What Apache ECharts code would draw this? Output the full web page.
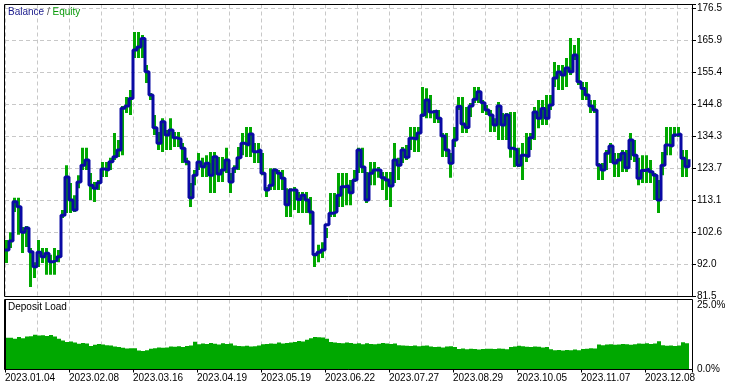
<!DOCTYPE html>
<html><head><meta charset="utf-8">
<script src="https://cdn.jsdelivr.net/npm/echarts/dist/echarts.min.js"></script>
<style>html,body{margin:0;padding:0;background:#fff}#c{width:737px;height:387px}</style>
</head><body><div id="c"></div>
<script>
const dateLabels = ['2023.01.04','2023.02.08','2023.03.16','2023.04.19','2023.05.19','2023.06.22','2023.07.27','2023.08.29','2023.10.05','2023.11.07','2023.12.08'];
const balanceTicks = ['81.5','92.0','102.6','113.1','123.7','134.3','144.8','155.4','165.9','176.5'];
const loadTicks = ['0.0%','25.0%'];

const balance = [96.9, 99.9, 112.8, 111.2, 102.8, 104.2, 96.3, 91.4, 96.2, 94.7,
 95.8, 93.0, 93.6, 94.7, 108.4, 121.0, 113.4, 110.1, 119.3, 124.9,
 126.6, 118.3, 117.3, 119.1, 123.6, 123.3, 126.0, 127.7, 129.9, 143.7,
 144.4, 146.9, 162.9, 163.9, 166.7, 155.7, 148.0, 137.2, 132.1, 139.2,
 134.8, 136.5, 133.9, 133.5, 130.5, 126.0, 114.1, 121.6, 125.9, 124.4,
 125.5, 121.6, 127.7, 122.0, 123.3, 126.6, 119.3, 123.9, 127.3, 132.1,
 131.5, 135.2, 129.3, 129.9, 122.2, 116.7, 118.3, 123.3, 122.2, 120.6,
 111.8, 116.7, 116.7, 113.6, 115.0, 113.4, 109.4, 95.3, 96.2, 96.9,
 105.2, 109.0, 109.5, 115.0, 117.8, 118.0, 115.8, 120.0, 129.9, 124.3,
 113.4, 122.2, 123.3, 123.3, 120.7, 120.0, 118.0, 126.6, 124.9, 129.9,
 127.5, 133.8, 133.5, 135.5, 141.4, 146.4, 142.4, 142.8, 140.4, 134.5,
 129.9, 125.5, 133.2, 144.2, 138.5, 137.3, 144.4, 146.6, 149.1, 145.5,
 143.1, 141.4, 138.1, 144.4, 138.1, 141.4, 130.5, 129.9, 124.9, 128.2,
 127.7, 133.9, 142.4, 140.4, 143.6, 140.4, 144.7, 153.6, 155.6, 154.6,
 156.9, 155.7, 161.2, 152.4, 150.2, 148.0, 144.4, 143.1, 124.9, 123.3,
 128.8, 131.2, 125.6, 126.6, 128.8, 124.0, 133.2, 128.2, 120.6, 123.1,
 123.6, 122.7, 121.6, 113.4, 124.9, 131.5, 131.2, 134.8, 135.2, 127.2,
 124.4, 126.8];

const equityHigh = [100.2, 102.8, 114.1, 114.1, 104.5, 104.8, 97.6, 92.9, 100.2, 97.6,
 97.6, 95.3, 97.6, 96.9, 110.1, 124.9, 119.0, 115.0, 121.6, 130.6,
 130.6, 122.3, 119.3, 120.0, 125.9, 125.9, 127.3, 135.5, 133.2, 144.4,
 147.4, 149.7, 168.8, 168.8, 167.8, 157.9, 148.7, 141.4, 135.8, 140.4,
 136.5, 140.4, 135.8, 135.8, 132.2, 127.3, 119.0, 123.3, 128.9, 127.3,
 128.2, 129.2, 129.2, 127.6, 127.6, 130.6, 122.3, 124.9, 130.9, 135.5,
 137.5, 137.5, 132.2, 132.2, 128.9, 117.7, 123.9, 123.9, 123.3, 123.3,
 117.3, 117.3, 117.7, 116.0, 116.0, 116.0, 114.4, 95.9, 98.6, 99.5,
 104.2, 115.7, 115.7, 122.3, 122.3, 122.3, 120.0, 123.3, 130.6, 130.6,
 122.6, 125.9, 125.9, 124.3, 122.6, 122.6, 122.6, 132.2, 127.3, 130.9,
 131.5, 137.5, 137.5, 137.5, 150.7, 150.3, 148.0, 143.1, 143.1, 135.5,
 135.5, 128.9, 137.5, 147.4, 147.4, 144.1, 145.4, 150.7, 150.7, 146.4,
 144.7, 143.1, 140.4, 145.7, 142.1, 142.1, 142.4, 142.4, 130.6, 132.2,
 135.5, 135.5, 144.1, 146.4, 146.4, 148.0, 148.0, 158.9, 157.9, 157.9,
 160.2, 166.8, 164.5, 166.8, 152.3, 152.3, 146.4, 146.4, 125.6, 125.6,
 129.9, 132.2, 128.9, 128.9, 129.9, 129.9, 135.5, 133.2, 127.3, 128.2,
 128.2, 126.6, 122.3, 120.0, 129.2, 137.5, 137.5, 137.5, 137.5, 129.9,
 129.9];

const equityLow = [92.6, 97.6, 109.4, 101.9, 95.9, 97.9, 84.7, 87.7, 91.3, 92.6,
 88.7, 88.7, 88.7, 92.9, 107.5, 109.1, 109.1, 109.4, 117.3, 123.3,
 123.3, 113.4, 112.7, 116.7, 121.0, 121.0, 123.3, 126.6, 127.6, 128.2,
 142.1, 141.4, 160.2, 160.2, 160.2, 152.0, 146.4, 134.8, 129.9, 129.2,
 129.9, 129.9, 130.9, 130.9, 125.6, 124.9, 111.1, 118.3, 123.3, 121.0,
 121.0, 115.7, 115.7, 119.3, 119.3, 122.3, 115.7, 122.3, 123.3, 128.2,
 127.6, 127.6, 125.6, 125.6, 121.6, 114.4, 116.7, 116.7, 116.7, 116.7,
 107.8, 107.8, 110.1, 109.1, 109.1, 109.1, 105.2, 91.3, 92.9, 94.3,
 100.9, 107.8, 107.8, 111.1, 111.1, 111.7, 111.7, 119.3, 122.3, 122.3,
 112.4, 118.3, 118.3, 120.7, 116.7, 113.4, 111.1, 119.0, 120.0, 125.6,
 126.6, 129.9, 129.2, 129.2, 140.8, 140.4, 140.4, 138.8, 138.8, 127.6,
 127.6, 120.7, 130.9, 143.1, 135.5, 135.5, 140.8, 145.4, 145.4, 142.1,
 141.4, 135.8, 135.8, 133.2, 133.2, 133.2, 127.3, 124.3, 124.3, 120.0,
 125.9, 129.9, 133.2, 137.1, 138.1, 138.1, 143.1, 150.7, 149.7, 149.7,
 150.7, 154.6, 159.6, 151.3, 146.4, 146.4, 142.1, 142.1, 120.0, 120.0,
 123.3, 125.6, 121.0, 121.0, 122.6, 122.6, 126.6, 125.9, 118.3, 119.0,
 119.0, 119.0, 113.4, 109.1, 121.6, 128.2, 128.2, 134.2, 134.2, 121.0,
 121.0];

const depositLoad = [11.3, 11.3,
 11.0, 11.6, 11.2, 11.8, 11.9,
 12.4, 12.1, 12.2, 12.0, 12.3, 11.8,
 11.0, 10.4,
 9.8, 10.0, 9.6, 9.2, 9.5, 9.3,
 8.4, 8.8, 9.1, 8.9, 8.7, 8.6,
 8.2, 8.0, 7.8, 7.5, 7.6, 7.6,
 6.8, 6.6, 6.9,
 7.4, 7.6, 7.9, 7.8, 7.9,
 8.2, 8.1, 8.3, 8.0, 8.4, 8.6,
 9.9,
 9.0, 9.3, 9.1, 9.5, 9.2, 8.9, 9.4, 9.1, 9.3,
 8.6, 8.4, 8.3, 8.5, 8.2, 8.3, 8.6,
 9.0, 9.1, 9.3, 9.2, 9.6, 9.3, 9.5, 9.6,
 9.8, 10.2, 10.0, 10.6, 11.2,
 11.6, 11.5, 11.4, 11.0,
 9.8, 9.6, 9.5, 9.4, 9.6, 9.5, 9.2, 9.4,
 9.0, 9.4, 9.1, 9.0, 9.2, 9.5, 9.3, 9.1,
 9.3, 8.7, 8.6, 8.5, 8.4, 8.6, 8.3, 8.5, 8.6,
 8.2, 8.0, 8.1, 7.9, 8.2, 8.3, 8.0,
 7.3, 7.5, 7.2, 7.4, 7.3, 7.1, 7.3, 7.4,
 7.4, 7.3, 7.5, 7.4, 7.2,
 8.0, 8.2, 8.5, 8.3, 8.1, 8.0, 8.2, 8.1, 7.9, 8.0,
 7.2, 6.9, 7.0, 6.8, 7.0, 6.9, 7.1, 6.9,
 7.3, 7.4, 7.6, 7.5,
 8.9, 8.7, 8.9, 9.0, 8.8, 8.9, 9.1, 9.0, 8.8, 9.0,
 9.3, 9.2, 9.4, 9.1, 9.3,
 10.1,
 8.7, 8.5, 8.6, 8.4, 8.6,
 9.7, 9.4];

const FONT = 'Liberation Sans';
const BLUE = '#0a0aa4', GREEN = '#00a800', GRID = '#c8c8c8';
const plotL = 5, plotR = 692;
const mainTop = 4.5, mainBottom = 296.7, stepPx = 32;
const loadTop = 299.5, loadBottom = 369.5;
const xUnitPx = 4;
const xMax = (plotR - plotL) / xUnitPx;
const yMin = 81.5, yStep = 95 / 9;
const mainH = mainBottom - mainTop;
const yMax = yMin + mainH / stepPx * yStep;
const tickMax = mainH / stepPx;

const chart = echarts.init(document.getElementById('c'), null, {renderer: 'canvas', width: 737, height: 387});

const dashed = {show: true, lineStyle: {color: GRID, type: [4, 3], width: 1}};
const noAxis = {axisLine: {show: false}, axisTick: {show: false}, axisLabel: {show: false}};

function rectItem(x0, y0, x1, y1, api, shrink) {
  const a = api.coord([x0, y0]);
  const b = api.coord([x1, y1]);
  const w = Math.abs(b[0] - a[0]) - (shrink || 0);
  return {type: 'rect', shape: {x: Math.min(a[0], b[0]), y: Math.min(a[1], b[1]), width: w, height: Math.max(1, Math.abs(b[1] - a[1]))}, style: {fill: GREEN}};
}

chart.setOption({
  animation: false,
  backgroundColor: '#fff',
  title: [
    {text: '{b|Balance} {s|/} {e|Equity}', left: 8, top: 7, padding: 0,
     textStyle: {fontFamily: FONT, fontSize: 10, fontWeight: 'normal',
       rich: {b: {color: '#1a1a8c', fontFamily: FONT, fontSize: 10}, s: {color: '#555', fontFamily: FONT, fontSize: 10}, e: {color: '#0a9a0a', fontFamily: FONT, fontSize: 10}}}},
    {text: 'Deposit Load', left: 8, top: 302, padding: 0,
     textStyle: {fontFamily: FONT, fontSize: 10, fontWeight: 'normal', color: '#000'}}
  ],
  grid: [
    {left: plotL, right: 737 - plotR, top: mainTop, height: mainH, outerBoundsMode: 'none', containLabel: false},
    {left: plotL, right: 737 - plotR, top: loadTop, height: loadBottom - loadTop, outerBoundsMode: 'none', containLabel: false}
  ],
  xAxis: [
    Object.assign({type: 'value', gridIndex: 0, min: 0, max: xMax, interval: 8, splitLine: dashed}, noAxis),
    {type: 'value', gridIndex: 1, min: 0, max: xMax, interval: 16, position: 'bottom',
     axisLine: {show: true, lineStyle: {color: '#000', width: 1}},
     axisTick: {show: true, length: 3, lineStyle: {color: '#000'}},
     splitLine: {show: false},
     axisLabel: {show: true, align: 'left', margin: 4, color: '#000', fontFamily: FONT, fontSize: 10,
       showMinLabel: true, showMaxLabel: true, hideOverlap: false,
       formatter: v => { const k = Math.round(v / 16); return (Math.abs(v - k * 16) < 1e-6 && dateLabels[k]) ? dateLabels[k] : ''; }}},
    Object.assign({type: 'value', gridIndex: 1, min: 0, max: xMax, interval: 8, position: 'top', splitLine: dashed}, noAxis)
  ],
  yAxis: [
    Object.assign({type: 'value', gridIndex: 0, min: yMin, max: yMax, position: 'left', splitLine: {show: false}}, noAxis),
    {type: 'value', gridIndex: 0, min: 0, max: tickMax, interval: 1, position: 'right', z: 1,
     axisLine: {show: true, lineStyle: {color: '#000', width: 1}},
     axisTick: {show: true, length: 4, lineStyle: {color: '#000'}},
     splitLine: dashed,
     axisLabel: {show: true, margin: 5, color: '#000', fontFamily: FONT, fontSize: 10, showMaxLabel: true, showMinLabel: true,
       formatter: v => { const k = Math.round(v); return (Math.abs(v - k) < 1e-6 && balanceTicks[k]) ? balanceTicks[k] : ''; }}},
    {type: 'value', gridIndex: 1, min: 0, max: 25, interval: 25, position: 'right', z: 10,
     axisLine: {show: true, lineStyle: {color: '#000', width: 1}},
     axisTick: {show: true, length: 4, lineStyle: {color: '#000'}},
     splitLine: {show: false},
     axisLabel: {show: true, margin: 5, color: '#000', fontFamily: FONT, fontSize: 10,
       formatter: v => v === 0 ? loadTicks[0] : '{t|' + loadTicks[1] + '}',
       rich: {t: {padding: [11, 0, 0, 0], color: '#000', fontFamily: FONT, fontSize: 10}}}}
  ],
  graphic: [
    {type: 'rect', z: 5, silent: true, shape: {x: 693, y: 300, width: 44, height: 12}, style: {fill: '#fff'}},
    {type: 'rect', z: 20, silent: true, shape: {x: 4.5, y: 4.5, width: 688, height: 292}, style: {fill: 'none', stroke: '#000', lineWidth: 1}},
    {type: 'rect', z: 20, silent: true, shape: {x: 4.5, y: 299.5, width: 688, height: 70}, style: {fill: 'none', stroke: '#000', lineWidth: 1}}
  ],
  series: [
    {type: 'custom', name: 'Equity', xAxisIndex: 0, yAxisIndex: 0, z: 2, clip: true,
     data: equityHigh.map((h, i) => [i, h, equityLow[i]]),
     encode: {x: 0, y: [1, 2]},
     renderItem: (params, api) => rectItem(api.value(0), api.value(1), api.value(0) + 1, api.value(2), api, 1)},
    {type: 'line', name: 'Balance', xAxisIndex: 0, yAxisIndex: 0, z: 3, step: 'end', showSymbol: false, symbol: 'none',
     data: balance.map((v, i) => [i, v]),
     lineStyle: {color: BLUE, width: 3}},
    {type: 'custom', name: 'Deposit Load', xAxisIndex: 1, yAxisIndex: 2, z: 2, clip: true,
     data: depositLoad.map((v, i) => [i, v]),
     encode: {x: 0, y: 1},
     renderItem: (params, api) => rectItem(api.value(0), 0, api.value(0) + 1, api.value(1), api, 0)}
  ]
});
</script>
</body></html>
